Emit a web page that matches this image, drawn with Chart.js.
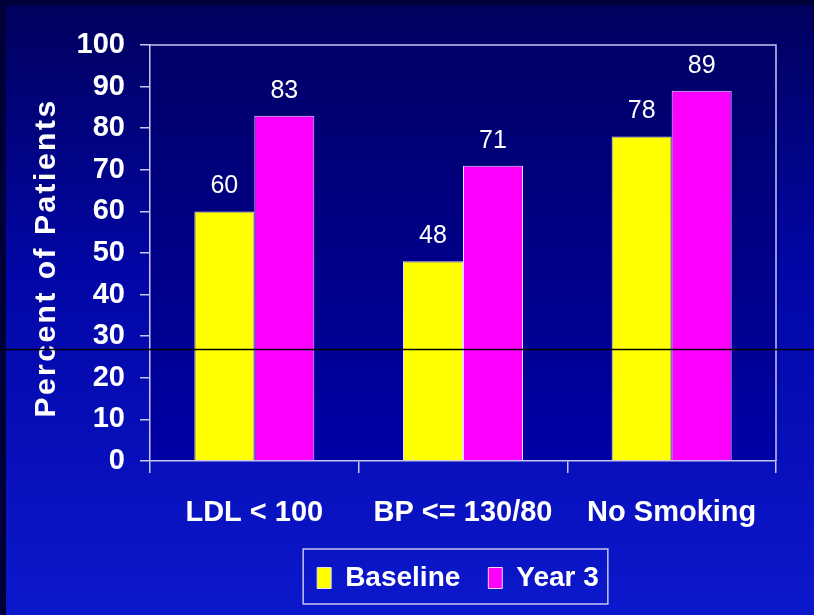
<!DOCTYPE html>
<html>
<head>
<meta charset="utf-8">
<style>
  html, body { margin: 0; padding: 0; background: #00008c; }
  #c { display: block; }
</style>
<script src="https://cdn.jsdelivr.net/npm/chart.js@4.4.1/dist/chart.umd.min.js"></script>
</head>
<body>
<canvas id="c" width="814" height="615"></canvas>
<script>
// Goal attainment by category, baseline vs year 3
const categories = ['LDL < 100', 'BP <= 130/80', 'No Smoking'];
const seriesNames = ['Baseline', 'Year 3'];
const baselineValues = [60, 48, 78];
const year3Values = [83, 71, 89];
const yTickValues = [0, 10, 20, 30, 40, 50, 60, 70, 80, 90, 100];
const yAxisTitle = 'Percent of Patients';

const FONT = '"Liberation Sans", Arial, sans-serif';
const AXIS_COLOR = '#c8c4f4';

// Slide background, plot panel, frame, value labels, legend frame
const decorPlugin = {
  id: 'decor',
  afterLayout(chart) {
    const lg = chart.legend;
    lg.left -= 5;
    lg.right -= 5;
  },
  beforeDraw(chart) {
    const { ctx, width, height, chartArea: a } = chart;
    ctx.save();
    const g = ctx.createLinearGradient(0, 0, 0, height);
    g.addColorStop(0, '#00005c');
    g.addColorStop(0.45, '#0206a6');
    g.addColorStop(1, '#0c18cc');
    ctx.fillStyle = g;
    ctx.fillRect(0, 0, width, height);
    // dark rim along the top and left edges
    ctx.fillStyle = '#000038';
    ctx.fillRect(0, 0, width, 5);
    ctx.fillRect(0, 0, 6, height);
    // plot panel
    const pg = ctx.createLinearGradient(0, a.top, 0, a.bottom);
    pg.addColorStop(0, '#000068');
    pg.addColorStop(1, '#0000a6');
    ctx.fillStyle = pg;
    ctx.fillRect(a.left, a.top, a.right - a.left, a.bottom - a.top);
    ctx.restore();
  },
  afterDatasetsDraw(chart) {
    const { ctx } = chart;
    ctx.save();
    ctx.font = '25px ' + FONT;
    ctx.fillStyle = '#ffffff';
    ctx.textAlign = 'center';
    ctx.textBaseline = 'middle';
    chart.data.datasets.forEach((ds, i) => {
      chart.getDatasetMeta(i).data.forEach((el, j) => {
        ctx.fillText(String(ds.data[j]), el.x, el.y - 25);
      });
    });
    ctx.restore();
  },
  afterDraw(chart) {
    const { ctx, chartArea: a } = chart;
    ctx.save();
    // top and right frame of the plot panel
    ctx.strokeStyle = AXIS_COLOR;
    ctx.lineWidth = 1.5;
    ctx.beginPath();
    ctx.moveTo(a.left, a.top);
    ctx.lineTo(a.right, a.top);
    ctx.lineTo(a.right, a.bottom);
    ctx.stroke();

    // rotated y-axis title with letter spacing
    ctx.fillStyle = '#ffffff';
    ctx.font = 'bold 30px ' + FONT;
    ctx.letterSpacing = '2.5px';
    ctx.textAlign = 'center';
    ctx.textBaseline = 'middle';
    ctx.translate(47, (a.top + a.bottom) / 2 + 5);
    ctx.rotate(-Math.PI / 2);
    ctx.fillText(yAxisTitle, 0, 0);
    ctx.restore();

    // legend frame
    const hb = chart.legend.legendHitBoxes;
    if (hb && hb.length) {
      const first = hb[0], last = hb[hb.length - 1];
      const l = first.left - 14;
      const r = last.left + last.width + 9;
      const t = first.top - 15;
      const b = first.top + first.height + 12;
      ctx.save();
      ctx.strokeStyle = AXIS_COLOR;
      ctx.lineWidth = 1.5;
      ctx.strokeRect(l, t, r - l, b - t);
      ctx.restore();
    }

    // thin dark rule across the slide
    ctx.save();
    ctx.strokeStyle = '#000000';
    ctx.lineWidth = 1.5;
    ctx.beginPath();
    ctx.moveTo(0, 349.5);
    ctx.lineTo(chart.width, 349.5);
    ctx.stroke();
    ctx.restore();
  }
};

new Chart(document.getElementById('c'), {
  type: 'bar',
  data: {
    labels: categories,
    datasets: [
      {
        label: seriesNames[0],
        data: baselineValues,
        backgroundColor: '#ffff00',
        borderColor: '#e6dcff',
        borderWidth: 1
      },
      {
        label: seriesNames[1],
        data: year3Values,
        backgroundColor: '#ff00ff',
        borderColor: '#e6dcff',
        borderWidth: 1
      }
    ]
  },
  options: {
    responsive: false,
    animation: false,
    devicePixelRatio: 1,
    layout: { padding: { left: 0, top: 45, right: 38, bottom: 19 } },
    datasets: { bar: { categoryPercentage: 0.575, barPercentage: 1 } },
    plugins: {
      tooltip: { enabled: false },
      legend: {
        position: 'bottom',
        fullSize: false,
        maxHeight: 60,
        labels: {
          color: '#ffffff',
          font: { family: FONT, size: 28, weight: 'bold' },
          boxWidth: 14,
          boxHeight: 21,
          padding: 28
        }
      }
    },
    scales: {
      x: {
        grid: {
          display: true,
          drawOnChartArea: false,
          offset: true,
          tickLength: 12,
          color: AXIS_COLOR,
          lineWidth: 1.5
        },
        border: { display: true, color: AXIS_COLOR, width: 1.5 },
        ticks: {
          color: '#ffffff',
          font: { family: FONT, size: 29, weight: 'bold' },
          padding: 23,
          autoSkip: false,
          maxRotation: 0
        },
        afterFit(scale) { scale.height = 75; }
      },
      y: {
        min: 0,
        max: 100,
        afterBuildTicks(scale) { scale.ticks = yTickValues.map(v => ({ value: v })); },
        grid: {
          display: true,
          drawOnChartArea: false,
          tickLength: 10,
          color: AXIS_COLOR,
          lineWidth: 1.5
        },
        border: { display: true, color: AXIS_COLOR, width: 1.5 },
        ticks: {
          color: '#ffffff',
          font: { family: FONT, size: 29, weight: 'bold' },
          padding: 15,
          autoSkip: false
        },
        afterFit(scale) { scale.width = 150; }
      }
    }
  },
  plugins: [decorPlugin]
});
</script>
</body>
</html>
